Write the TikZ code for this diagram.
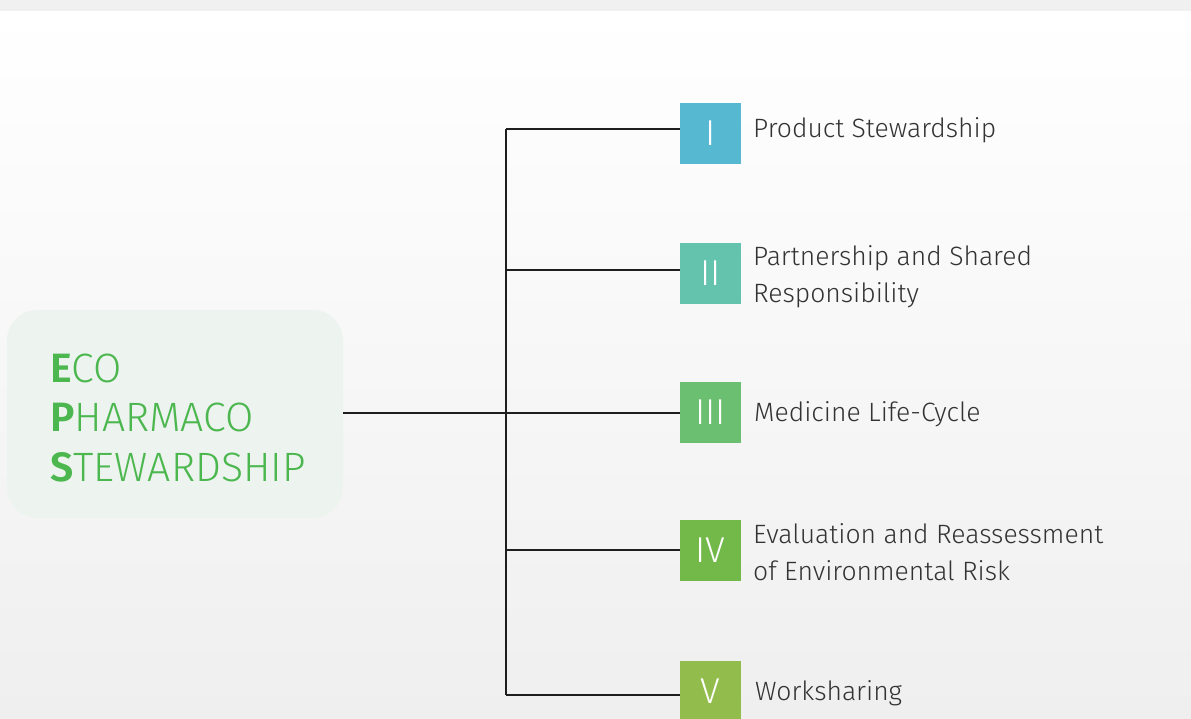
\documentclass[tikz,border=0pt]{standalone}
\usepackage{fontspec}
\setmainfont{Fira Sans Light}[BoldFont={Fira Sans SemiBold}]
\definecolor{topband}{RGB}{239,240,239}
\definecolor{bgbot}{RGB}{239,239,239}
\definecolor{boxc}{RGB}{237,244,240}
\definecolor{epsgreen}{RGB}{77,183,79}
\definecolor{linec}{RGB}{30,30,30}
\definecolor{txt}{RGB}{51,51,51}
\definecolor{cI}{RGB}{86,184,209}
\definecolor{cII}{RGB}{100,195,172}
\definecolor{cIII}{RGB}{107,191,112}
\definecolor{cIV}{RGB}{114,185,74}
\definecolor{cV}{RGB}{146,188,75}
\tikzset{
  sq/.style={minimum width=61pt, minimum height=61pt, inner sep=0pt, text=white, font=\fontsize{36}{36}\selectfont},
  lbl/.style={anchor=base west, inner sep=0pt, text=txt, font=\fontsize{26.5}{30}\selectfont},
  epsl/.style={anchor=base west, inner sep=0pt, text=epsgreen, font=\fontsize{41}{41}\selectfont},
  conn/.style={draw=linec, line width=2pt}
}
\begin{document}
\begin{tikzpicture}[x=1pt,y=-1pt]
\useasboundingbox (0,0) rectangle (1191,719);
\shade[top color=white, bottom color=bgbot] (0,11) rectangle (1191,719);
\fill[topband] (0,0) rectangle (1191,11);
% left box
\node[fill=boxc, rounded corners=30pt, minimum width=336pt, minimum height=208pt, inner sep=0pt] (eps) at (175,414) {};
\node[epsl] (e1) at (50,382) {\textbf{E}CO};
\node[epsl] (e2) at (50,431) {\textbf{P}HARMACO};
\node[epsl] (e3) at (50,481) {\textbf{S}TEWARDSHIP};
% squares
\node[sq, fill=cI] (s1) at (710.5,133.5) {I};
\node[sq, fill=cII] (s2) at (710.5,273.5) {II};
\node[sq, fill=cIII] (s3) at (710.5,412.5) {III};
\node[sq, fill=cIV] (s4) at (710.5,550.5) {IV};
\node[sq, fill=cV] (s5) at (710.5,691.5) {V};
% labels
\node[lbl] (t1) at (753,138) {Product Stewardship};
\node[lbl] (t2a) at (753,266) {Partnership and Shared};
\node[lbl] (t2b) at (753,302) {Responsibility};
\node[lbl] (t3) at (754,421) {Medicine Life-Cycle};
\node[lbl] (t4a) at (753,543) {Evaluation and Reassessment};
\node[lbl] (t4b) at (753,580) {of Environmental Risk};
\node[lbl] (t5) at (755,700) {Worksharing};
% connectors
\coordinate (j1) at (506,129);
\coordinate (j2) at (506,270);
\coordinate (j3) at (506,413);
\coordinate (j4) at (506,550);
\coordinate (j5) at (506,695);
\draw[conn] (j1) -- (j5);
\draw[conn] (eps.east |- j3) -- (j3);
\draw[conn] (j1) -- (j1 -| s1.west);
\draw[conn] (j2) -- (j2 -| s2.west);
\draw[conn] (j3) -- (j3 -| s3.west);
\draw[conn] (j4) -- (j4 -| s4.west);
\draw[conn] (j5) -- (j5 -| s5.west);
\end{tikzpicture}
\end{document}
